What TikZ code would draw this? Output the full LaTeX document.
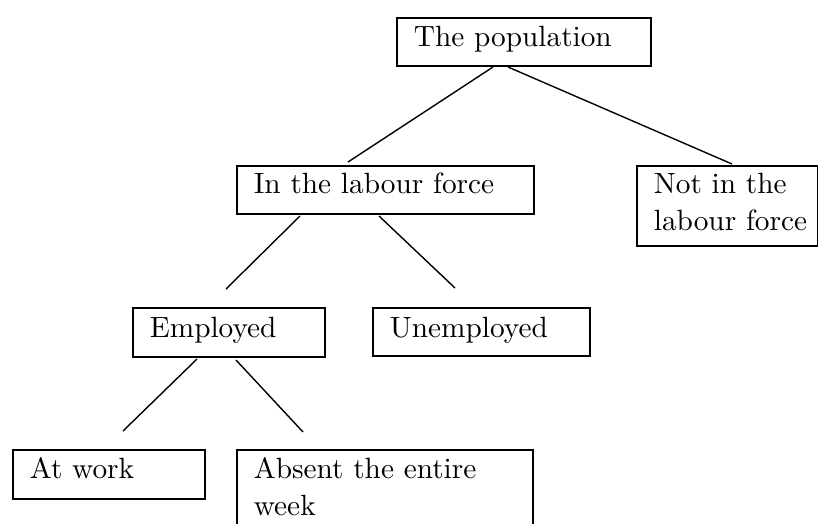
\documentclass[tikz,border=0pt]{standalone}

\font\boxfnt="[lmroman10-regular]:mapping=tex-text" at 29.3pt
\newcommand{\boxfont}{\boxfnt\baselineskip=37pt}

\begin{document}
\begin{tikzpicture}[x=1pt, y=-1pt,
        box/.style={draw, line width=1.8pt, anchor=north west, inner xsep=17pt, inner ysep=0pt,
            align=left, font=\boxfont, text height=29pt, text depth=19pt},
        link/.style={line width=1.4pt}]

                \clip (0,0) rectangle (818,523);

                %Boxes
                \node[box, text width=220pt] (pop) at (396,17) {The population};
                \node[box, text width=263pt, text height=28pt, text depth=20pt] (labour) at (236,165) {In the labour force};
                \node[box, text width=147pt, text height=28pt, text depth=52pt] (notin) at (636,165) {Not in the\\\mbox{labour force}};
                \node[box, text width=158pt, text height=30pt, text depth=19pt] (employed) at (132,307) {Employed};
                \node[box, text width=183pt, text height=30pt, text depth=18pt] (unemployed) at (372,307) {Unemployed};
                \node[box, text width=158pt, text depth=20pt] (atwork) at (12,449) {At work};
                \node[box, text width=262pt, text depth=70pt] (absent) at (236,449) {Absent the entire\\week};

                %Connector ends
                \coordinate (a1) at (493,67);  \coordinate (a2) at (348,162);
                \coordinate (b1) at (508,67);  \coordinate (b2) at (732,164);
                \coordinate (c1) at (300,216); \coordinate (c2) at (226,289);
                \coordinate (d1) at (379,216); \coordinate (d2) at (455,288);
                \coordinate (e1) at (197,359); \coordinate (e2) at (123,431);
                \coordinate (f1) at (236,360); \coordinate (f2) at (303,432);

                %Connectors
                \foreach \s/\e in {a1/a2, b1/b2, c1/c2, d1/d2, e1/e2, f1/f2}
                \draw[link] (\s) -- (\e);

\end{tikzpicture}
\end{document}
